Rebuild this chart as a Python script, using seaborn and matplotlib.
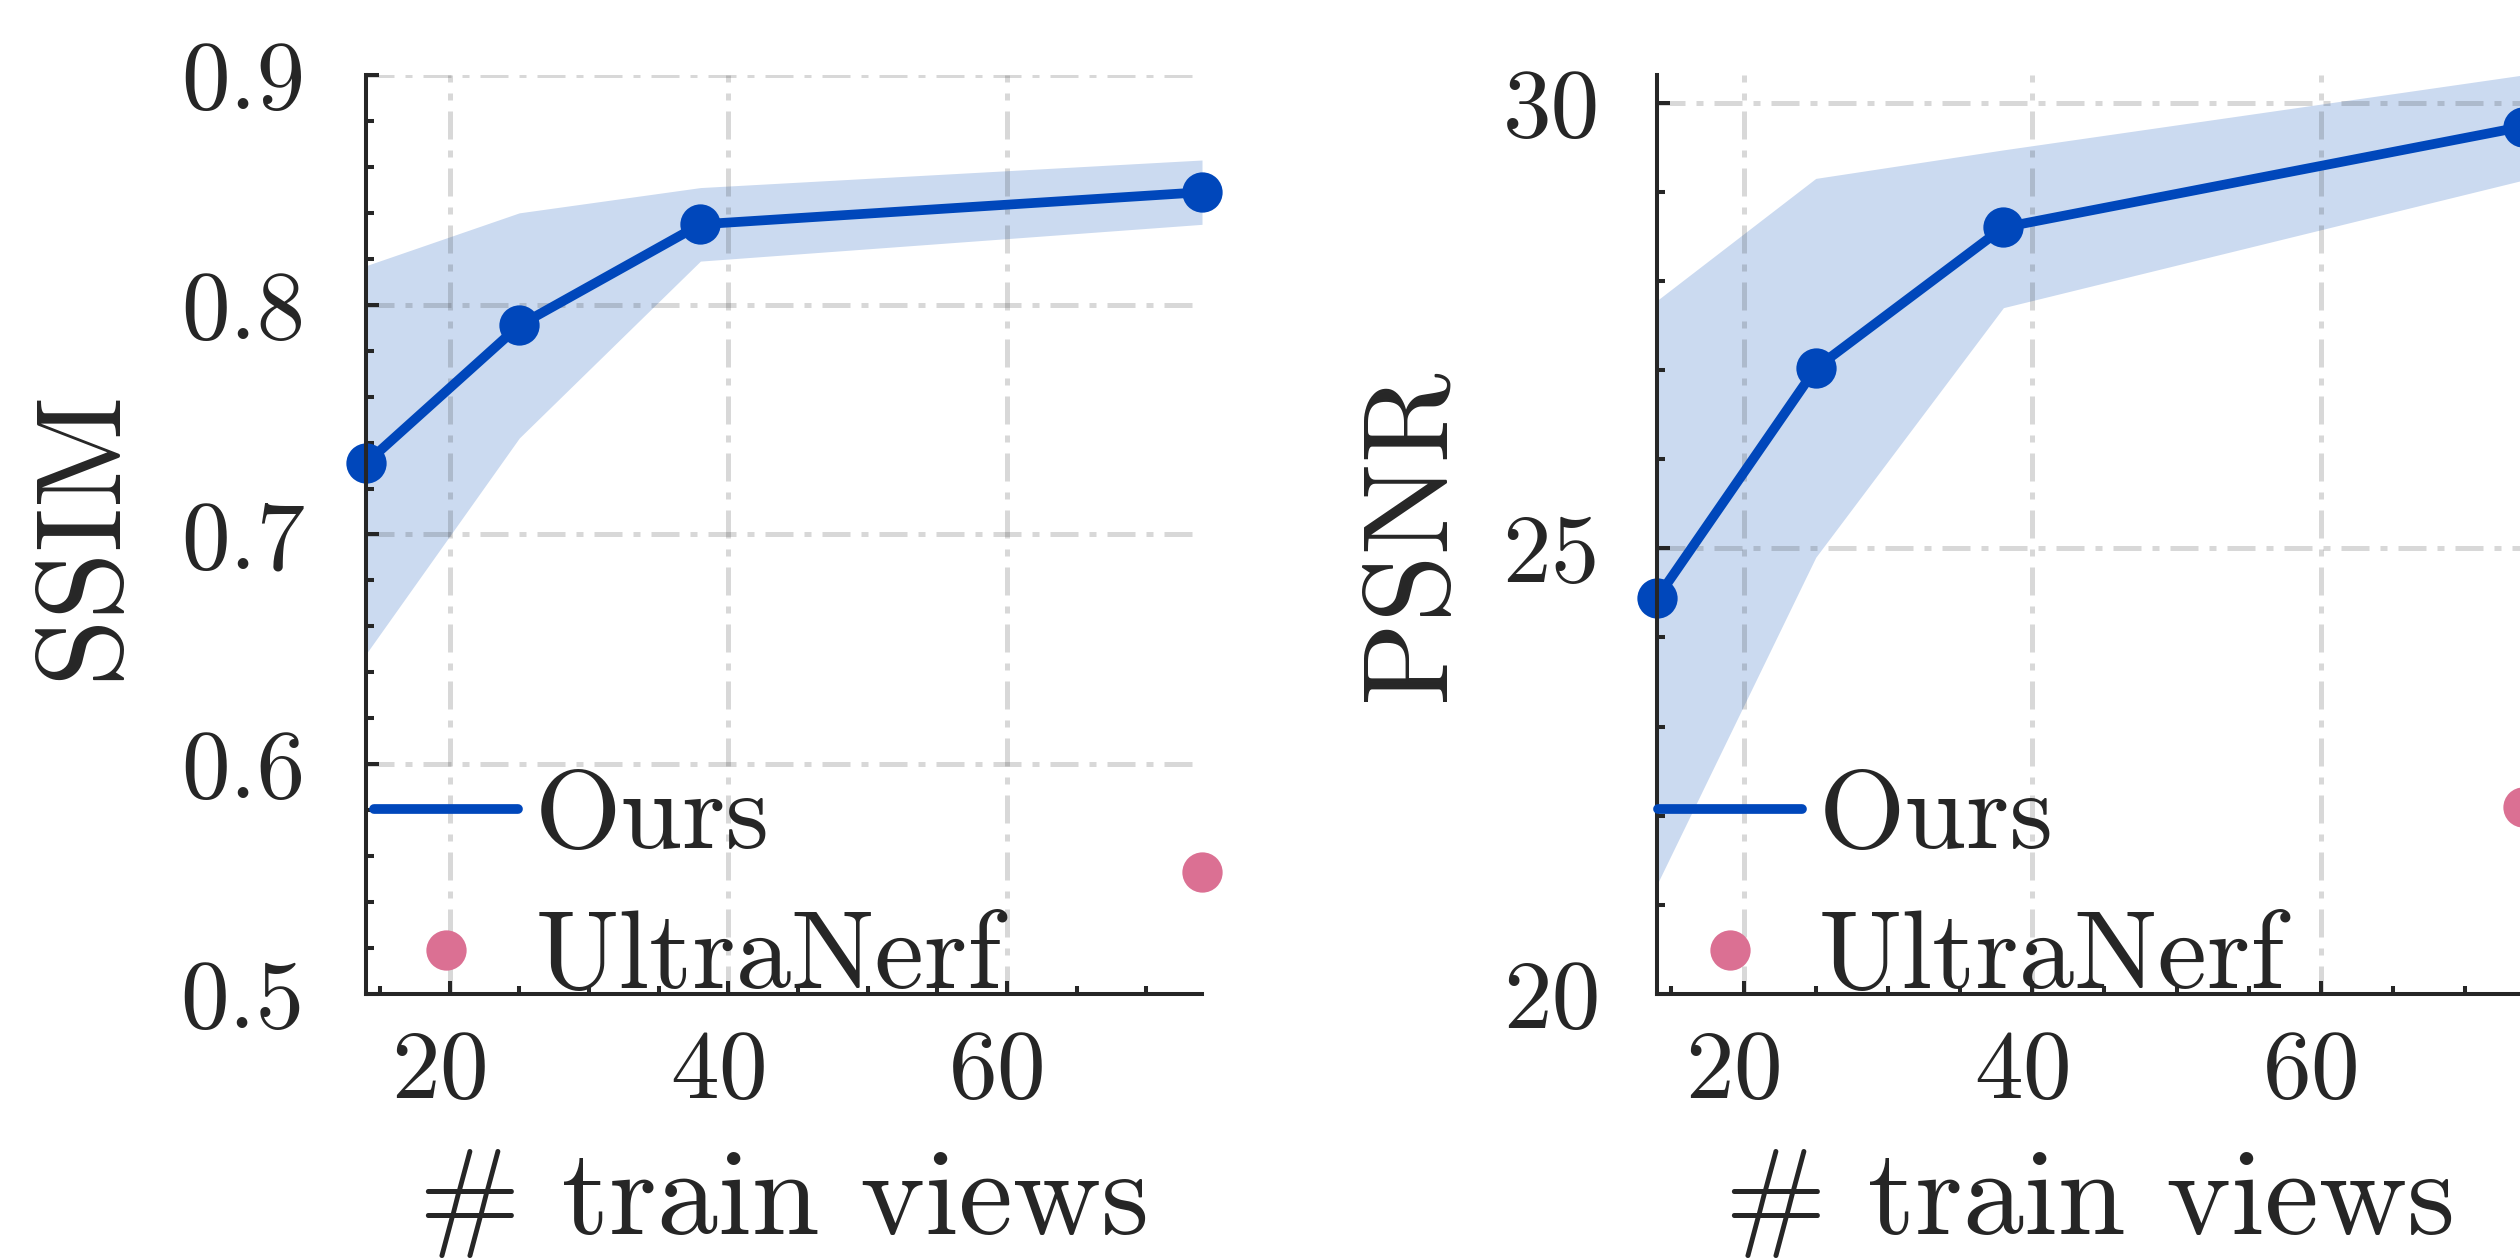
import numpy as np
import pandas as pd
import matplotlib
matplotlib.use("Agg")
import matplotlib.pyplot as plt
import matplotlib.transforms as mtransforms
import seaborn as sns
from matplotlib.lines import Line2D
from matplotlib.ticker import MultipleLocator, FormatStrFormatter

# data
views = [14, 25, 38, 74]
ssim_ours = [0.731, 0.791, 0.835, 0.849]
ssim_lo = [0.648, 0.742, 0.819, 0.835]
ssim_hi = [0.817, 0.840, 0.851, 0.863]
psnr_ours = [24.44, 27.02, 28.60, 29.73]
psnr_lo = [21.23, 24.90, 27.70, 29.13]
psnr_hi = [27.78, 29.15, 29.47, 30.31]
ultra_views = [74]
ultra_ssim = [0.553]
ultra_psnr = [22.1]

blue = "#0047BB"
band = "#CBDAF0"
pink = "#DB7093"
ink = "#262626"

sns.set_theme(style="ticks")
plt.rcParams["font.family"] = ["cmr10", "DejaVu Serif"]
plt.rcParams["axes.formatter.use_mathtext"] = True
plt.rcParams["text.color"] = ink
plt.rcParams["axes.labelcolor"] = ink

fig = plt.figure(figsize=(25.2, 12.6), dpi=100)
ax1 = fig.add_axes([366 / 2520, 1 - 994 / 1260, 836 / 2520, 919 / 1260])
ax2 = fig.add_axes([1657 / 2520, 1 - 994 / 1260, 866 / 2520, 919 / 1260])

panels = [
    (ax1, ssim_ours, ssim_lo, ssim_hi, ultra_ssim, "SSIM", (0.5, 0.9), 0.1, 0.02, "%.1f", -0.2715, 44, 0.0096),
    (ax2, psnr_ours, psnr_lo, psnr_hi, ultra_psnr, "PSNR", (20, 30.31), 5, 1, "%d", -0.2175, 41, 0.001),
]

for ax, mean, lo, hi, ultra, ylab, ylim, major, minor, fmt, ylx, ypad, legx in panels:
    df = pd.DataFrame({"views": views, "mean": mean})
    ax.fill_between(views, lo, hi, color=band, lw=0, zorder=1)
    sns.lineplot(data=df, x="views", y="mean", ax=ax, color=blue, lw=7,
                 marker="o", markersize=29, markeredgewidth=0, zorder=4,
                 clip_on=False)
    sns.scatterplot(x=ultra_views, y=ultra, ax=ax, color=pink, s=841,
                    linewidth=0, zorder=4, clip_on=False)

    ax.set_xlim(14, 74)
    ax.set_ylim(*ylim)
    ax.xaxis.set_major_locator(MultipleLocator(20))
    ax.xaxis.set_minor_locator(MultipleLocator(5))
    ax.yaxis.set_major_locator(MultipleLocator(major))
    ax.yaxis.set_minor_locator(MultipleLocator(minor))
    ax.yaxis.set_major_formatter(FormatStrFormatter(fmt))

    # dash-dot grid drawn over the band, under the line
    ax.set_axisbelow(False)
    ax.grid(True, which="major", color=ink, alpha=0.175, lw=3.6,
            dashes=(5.6, 2.2, 1.4, 2.2), zorder=2.5)
    sns.despine(ax=ax)
    for s in ("left", "bottom"):
        ax.spines[s].set_linewidth(2.9)
        ax.spines[s].set_color(ink)
        ax.spines[s].set_zorder(5)
    ax.tick_params(which="both", direction="in", color=ink, width=2.9,
                   labelsize=70, labelcolor=ink)
    ax.tick_params(which="major", length=9.5)
    ax.tick_params(which="minor", length=6)
    ax.tick_params(axis="y", pad=ypad)
    ax.tick_params(axis="x", pad=26)

    # x tick labels sit a little left of their ticks in the reference
    shift = mtransforms.ScaledTranslation(-11 / 100, 0, fig.dpi_scale_trans)
    for lab in ax.get_xticklabels():
        lab.set_transform(lab.get_transform() + shift)

    ax.set_xlabel("# train views", fontsize=88)
    ax.set_ylabel(ylab, fontsize=88)
    ax.xaxis.set_label_coords(0.5, -0.168)
    ax.yaxis.set_label_coords(ylx, 0.5)

    handles = [
        Line2D([], [], color=blue, lw=7),
        Line2D([], [], color=pink, lw=0, marker="o", markersize=29, markeredgewidth=0),
    ]
    ax.legend(handles, ["Ours", "UltraNerf"], loc="center left",
              bbox_to_anchor=(legx, 0.113),
              frameon=False, fontsize=80, handlelength=1.3,
              handletextpad=0.15, borderpad=0, borderaxespad=0,
              labelspacing=0.37)

fig.savefig("out.png", dpi=100)
